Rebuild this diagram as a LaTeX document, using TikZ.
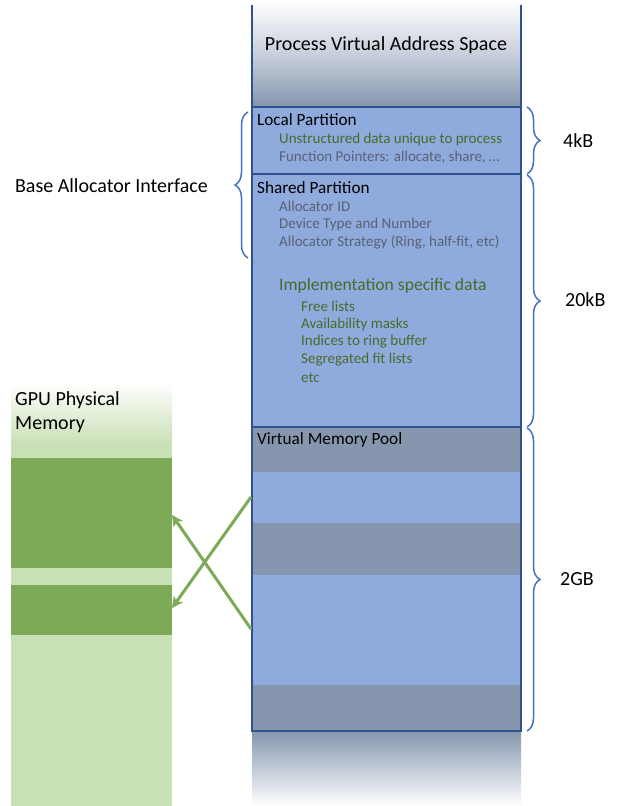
\documentclass[tikz,border=0pt]{standalone}
\usepackage{fontspec}
\setmainfont{Carlito}
\usetikzlibrary{decorations.pathreplacing,arrows.meta}
\definecolor{fillblue}{HTML}{8FAADC}
\definecolor{greyblue}{HTML}{8596AE}
\definecolor{edgeblue}{HTML}{2F528F}
\definecolor{braceblue}{HTML}{4472C4}
\definecolor{darkgreen}{HTML}{7DAA56}
\definecolor{lightgreen}{HTML}{C9DFB5}
\definecolor{txtgreen}{HTML}{4A6A2A}
\definecolor{txtgrey}{HTML}{5A6274}
\tikzset{
  head/.style={anchor=west,inner sep=0pt,font=\fontsize{17.2}{20}\selectfont},
  subgrey/.style={anchor=west,inner sep=0pt,text=txtgrey,font=\fontsize{15}{18}\selectfont},
  subgreen/.style={anchor=west,inner sep=0pt,text=txtgreen,font=\fontsize{15}{18}\selectfont},
  biglbl/.style={anchor=west,inner sep=0pt,font=\fontsize{20}{24}\selectfont},
  bracestyle/.style={decorate,decoration={brace,amplitude=13pt},draw=braceblue,line width=1.5pt},
  edgeline/.style={draw=edgeblue,line width=1.6pt},
  maparrow/.style={draw=darkgreen,line width=3pt,-{Stealth[length=11pt,width=11pt,inset=3pt]}}
}
\begin{document}
\begin{tikzpicture}[x=1pt,y=-1pt]
\useasboundingbox (0,0) rectangle (618,806);
\fill[white] (0,0) rectangle (618,806);
% process column
\shade[top color=white,bottom color=greyblue,middle color=white!55!greyblue] (252,0) rectangle (521,107);
\shade[top color=greyblue,bottom color=white] (252,731) rectangle (521,806);
\fill[fillblue] (252,107) rectangle (521,731);
\fill[greyblue] (252,427) rectangle (521,472);
\fill[greyblue] (252,523) rectangle (521,575);
\fill[greyblue] (252,685) rectangle (521,731);
\draw[edgeline] (252,5) -- (252,731) -- (521,731) -- (521,5);
\draw[edgeline] (252,107) -- (521,107);
\draw[edgeline] (252,174) -- (521,174);
\draw[edgeline] (252,427) -- (521,427);
% GPU column
\shade[top color=white,bottom color=lightgreen] (11,382) rectangle (172,445);
\fill[lightgreen] (11,444) rectangle (172,806);
\fill[darkgreen] (11,458) rectangle (172,568);
\fill[darkgreen] (11,585) rectangle (172,635);
% texts
\node[anchor=center,inner sep=0pt,font=\fontsize{20}{24}\selectfont] (title) at (386,45) {Process Virtual Address Space};
\node[head] (local) at (257,120) {Local Partition};
\node[subgreen] (unstr) at (279,139) {Unstructured data unique to process};
\node[subgrey] (fptr) at (279,157) {Function Pointers: allocate, share, \dots};
\node[head] (shared) at (257,188) {Shared Partition};
\node[subgrey] (aid) at (279,206) {Allocator ID};
\node[subgrey] (dev) at (279,224) {Device Type and Number};
\node[subgrey] (strat) at (279,242) {Allocator Strategy (Ring, half-fit, etc)};
\node[subgreen,font=\fontsize{17.6}{21}\selectfont] (impl) at (279,286) {Implementation specific data};
\node[subgreen] (free) at (301,306) {Free lists};
\node[subgreen] (avail) at (301,324) {Availability masks};
\node[subgreen] (ind) at (301,342) {Indices to ring buffer};
\node[subgreen] (seg) at (301,360) {Segregated fit lists};
\node[subgreen] (etc) at (301,378) {etc};
\node[head] (vmp) at (257,440) {Virtual Memory Pool};
\node[biglbl,align=left,anchor=north west] (gpu) at (15,391) {GPU Physical\\Memory};
% braces
\draw[bracestyle] (527,107) -- (527,174);
\draw[bracestyle] (527,175) -- (527,427);
\draw[bracestyle] (527,428) -- (527,731);
\draw[bracestyle] (248,258) -- (248,112);
\node[biglbl] (k4) at (563,141) {4kB};
\node[biglbl] (k20) at (565,300) {20kB};
\node[biglbl] (g2) at (560,579) {2GB};
\node[biglbl,anchor=east] (bai) at (208,186) {Base Allocator Interface};
% arrows
\coordinate (vA) at (251,497);
\coordinate (vB) at (251,629);
\coordinate (pA) at (172,608);
\coordinate (pB) at (172,515);
\draw[maparrow] (vA) -- (pA);
\draw[maparrow] (vB) -- (pB);
\end{tikzpicture}
\end{document}
